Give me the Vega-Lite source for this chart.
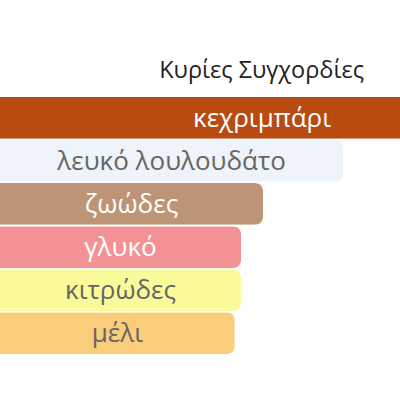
{
  "$schema": "https://vega.github.io/schema/vega-lite/v6.json",
  "width": 400,
  "height": 314,
  "autosize": "none",
  "padding": {"top": 86, "left": 0, "right": 0, "bottom": 0},
  "background": "white",
  "title": {"text": "Κυρίες Συγχορδίες", "anchor": "end", "frame": "group", "fontSize": 23.5, "font": "Open Sans", "fontWeight": "normal", "color": "#222222", "dx": -36, "offset": 4},
  "config": {"view": {"stroke": null}},
  "data": {"values": [
    {"accord": "κεχριμπάρι", "value": 100},
    {"accord": "λευκό λουλουδάτο", "value": 65.5},
    {"accord": "ζωώδες", "value": 50.2},
    {"accord": "γλυκό", "value": 46.0},
    {"accord": "κιτρώδες", "value": 46.0},
    {"accord": "μέλι", "value": 44.8}
  ]},
  "encoding": {
    "y": {"field": "accord", "type": "nominal", "sort": null, "axis": null,
          "scale": {"range": [11, 268], "paddingInner": 0.03, "paddingOuter": 0}}
  },
  "layer": [
    {
      "mark": {"type": "bar", "cornerRadiusEnd": 8},
      "encoding": {
        "x": {"field": "value", "type": "quantitative", "axis": null, "scale": {"domain": [0, 76.34], "range": [0, 400], "zero": true, "nice": false}},
        "color": {"field": "accord", "type": "nominal", "legend": null,
                  "scale": {"domain": ["κεχριμπάρι", "λευκό λουλουδάτο", "ζωώδες", "γλυκό", "κιτρώδες", "μέλι"],
                            "range": ["#B94B11", "#EFF3FA", "#BD9576", "#F39294", "#FAFA9A", "#F9CD79"]}}
      }
    },
    {
      "mark": {"type": "text", "font": "Open Sans", "fontSize": 26, "fontWeight": "normal", "align": "center", "baseline": "middle", "dy": 1},
      "encoding": {
        "x": {"field": "value", "type": "quantitative", "axis": null, "scale": {"domain": [0, 152.68], "range": [0, 400], "zero": true, "nice": false}},
        "text": {"field": "accord"},
        "color": {"field": "accord", "type": "nominal", "legend": null,
                  "scale": {"domain": ["κεχριμπάρι", "λευκό λουλουδάτο", "ζωώδες", "γλυκό", "κιτρώδες", "μέλι"],
                            "range": ["#FFFFFF", "#666666", "#FFFFFF", "#FFFFFF", "#666666", "#666666"]}}
      }
    }
  ],
  "resolve": {"scale": {"x": "independent", "color": "independent"}}
}
